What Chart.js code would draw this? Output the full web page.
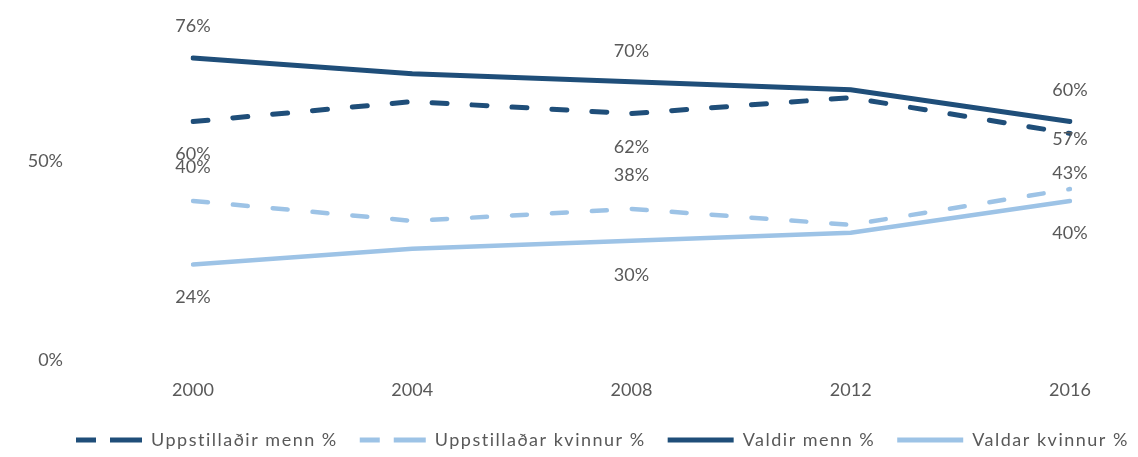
<!DOCTYPE html>
<html>
<head>
<meta charset="utf-8">
<script src="https://cdn.jsdelivr.net/npm/chart.js@4/dist/chart.umd.min.js"></script>
<style>
  html, body { margin: 0; padding: 0; background: #fff; }
  #wrap { width: 1138px; height: 457px; }
</style>
</head>
<body>
<div id="wrap"><canvas id="chart"></canvas></div>
<script>
var years = ['2000', '2004', '2008', '2012', '2016'];
var uppMenn = [60, 65, 62, 66, 57];
var uppKvinnur = [40, 35, 38, 34, 43];
var valdirMenn = [76, 72, 70, 68, 60];
var valdarKvinnur = [24, 28, 30, 32, 40];
var seriesNames = ['Uppstillaðir menn %', 'Uppstillaðar kvinnur %', 'Valdir menn %', 'Valdar kvinnur %'];
var labelledYears = [0, 2, 4];

var dark = '#1f4e79', light = '#9dc3e6', grey = '#595959';
var font = { family: 'Lato, "Open Sans", sans-serif', size: 18 };

// value labels, shifted above / below the points like the original
var pointLabels = {
	id: 'pointLabels',
	afterDatasetsDraw: function(chart, args, opts) {
		var ctx = chart.ctx;
		ctx.save();
		ctx.font = font.size + 'px ' + font.family;
		ctx.fillStyle = grey;
		ctx.textAlign = 'center';
		ctx.textBaseline = 'middle';
		chart.data.datasets.forEach(function(ds, d) {
			var meta = chart.getDatasetMeta(d);
			labelledYears.forEach(function(i, k) {
				var pt = meta.data[i];
				ctx.fillText(ds.data[i] + '%', pt.x, pt.y + opts.shift[d][k]);
			});
		});
		ctx.restore();
	}
};

// one row legend, tight box, wider letter spacing, shifted right like the original
var legendFit = {
	id: 'legendFit',
	afterInit: function(chart) {
		var lg = chart.legend;
		if (!lg) return;
		var fit = lg.fit, draw = lg.draw;
		lg.fit = function() {
			this.ctx.save();
			this.ctx.letterSpacing = '1.5px';
			this.maxWidth = 2000;
			fit.call(this);
			this.ctx.restore();
			this.height = 48;
		};
		lg.draw = function() {
			this.ctx.save();
			this.ctx.letterSpacing = '1.5px';
			draw.apply(this, arguments);
			this.ctx.restore();
		};
	},
	afterLayout: function(chart, args, opts) {
		if (!chart.legend) return;
		chart.legend.left = opts.left;
		chart.legend.right = opts.right;
	}
};

function noPad(s) { s.paddingTop = 0; s.paddingBottom = 0; s.paddingLeft = 0; s.paddingRight = 0; }

var ctx = document.getElementById('chart').getContext('2d');
window.myLine = new Chart(ctx, {
	type: 'line',
	data: {
		labels: years,
		datasets: [
			{ label: seriesNames[0], data: uppMenn, borderColor: dark, backgroundColor: dark, borderWidth: 5, borderDash: [15, 25], borderCapStyle: 'round' },
			{ label: seriesNames[1], data: uppKvinnur, borderColor: light, backgroundColor: light, borderWidth: 4.5, borderDash: [15, 25], borderCapStyle: 'round' },
			{ label: seriesNames[2], data: valdirMenn, borderColor: dark, backgroundColor: dark, borderWidth: 5, borderCapStyle: 'round' },
			{ label: seriesNames[3], data: valdarKvinnur, borderColor: light, backgroundColor: light, borderWidth: 4.5, borderCapStyle: 'round' }
		]
	},
	options: {
		responsive: true, maintainAspectRatio: false, animation: false,
		elements: { point: { radius: 0 }, line: { tension: 0 } },
		layout: { padding: { top: 42, right: 68, left: 20, bottom: 0 } },
		scales: {
			x: {
				offset: false,
				grid: { display: false, drawTicks: false }, border: { display: false },
				ticks: { color: grey, font: font, padding: 19, maxRotation: 0 },
				afterFit: function(s) { s.height = 49; noPad(s); }
			},
			y: {
				min: 0, max: 80,
				grid: { display: false, drawTicks: false }, border: { display: false },
				ticks: { stepSize: 50, color: grey, font: font, padding: 130,
					callback: function(v) { return v % 50 === 0 ? v + '%' : null; } },
				afterFit: function(s) { s.width = 173; noPad(s); }
			}
		},
		plugins: {
			legend: {
				position: 'bottom', align: 'start',
				labels: {
					usePointStyle: true, pointStyle: 'line', pointStyleWidth: 66, color: grey, font: font, padding: 22,
					generateLabels: function(chart) {
						var items = Chart.defaults.plugins.legend.labels.generateLabels(chart);
						items.forEach(function(it, i) {
							var ds = chart.data.datasets[i];
							it.lineWidth = 5;
							it.strokeStyle = ds.borderColor;
							it.lineCap = 'butt';
							it.lineDash = ds.borderDash ? [20, 14, 40] : [];
						});
						return items;
					}
				}
			},
			legendFit: { left: 54, right: 1400 },
			tooltip: { enabled: false },
			pointLabels: { shift: [[33, 34, 6], [-34, -34, -16], [-32, -31, -31], [33, 34, 32]] }
		}
	},
	plugins: [pointLabels, legendFit]
});
</script>
</body>
</html>
